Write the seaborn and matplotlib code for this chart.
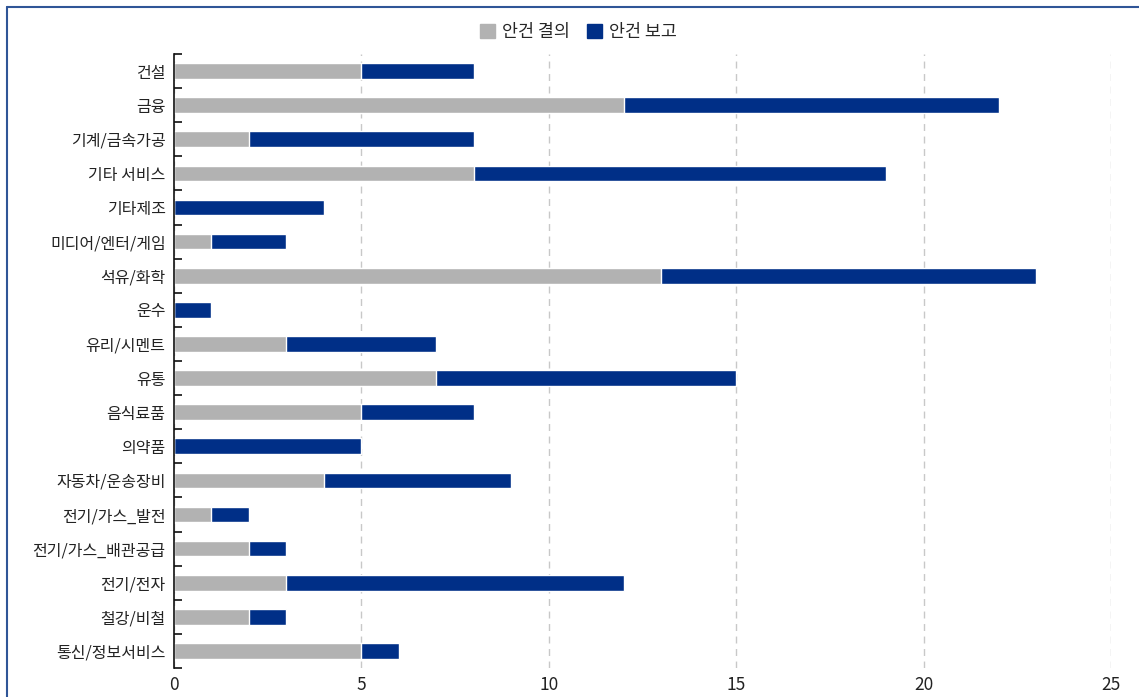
import pandas as pd
import seaborn as sns
import matplotlib.pyplot as plt
from matplotlib.lines import Line2D
from matplotlib.patches import Patch

INDUSTRIES = [
    "건설", "금융", "기계/금속가공", "기타 서비스", "기타제조", "미디어/엔터/게임",
    "석유/화학", "운수", "유리/시멘트", "유통", "음식료품", "의약품",
    "자동차/운송장비", "전기/가스_발전", "전기/가스_배관공급", "전기/전자",
    "철강/비철", "통신/정보서비스",
]
RESOLVED = [5, 12, 2, 8, 0, 1, 13, 0, 3, 7, 5, 0, 4, 1, 2, 3, 2, 5]
REPORTED = [3, 10, 6, 11, 4, 2, 10, 1, 4, 8, 3, 5, 5, 1, 1, 9, 1, 1]
X_TICKS = [0, 5, 10, 15, 20, 25]

GRAY = "#B2B2B2"
NAVY = "#002F87"
FONT = ["Noto Sans CJK KR", "DejaVu Sans"]


def main():
    df = pd.DataFrame({"industry": INDUSTRIES, "resolved": RESOLVED, "reported": REPORTED})
    df["total"] = df["resolved"] + df["reported"]
    style_plot(df)


def style_plot(df: pd.DataFrame) -> None:
    sns.set_style("white")
    plt.rcParams["font.family"] = FONT

    fig = plt.figure(figsize=(11.39, 6.97), dpi=100)
    ax = fig.add_axes([174 / 1139, 1 - 668 / 697, (1111 - 174) / 1139, (668 - 54) / 697])

    sns.barplot(data=df, x="total", y="industry", color=NAVY, orient="h",
                width=0.46, saturation=1, ax=ax)
    sns.barplot(data=df, x="resolved", y="industry", color=GRAY, orient="h",
                width=0.46, saturation=1, ax=ax)

    ax.set_xlim(0, 25)
    ax.set_ylim(len(INDUSTRIES) - 0.5, -0.5)
    ax.set_xticks(X_TICKS)
    ax.set_xticklabels([str(t) for t in X_TICKS], fontsize=12.5, color="#222222")
    ax.set_yticks(range(len(INDUSTRIES)))
    ax.set_yticklabels(INDUSTRIES, fontsize=11.5, color="#222222")
    ax.set_yticks([i - 0.5 for i in range(len(INDUSTRIES) + 1)], minor=True)
    ax.tick_params(axis="y", which="major", left=False, length=0, pad=6)
    ax.tick_params(axis="y", which="minor", left=True, length=6, width=1.2,
                   direction="in", color="#111111")
    ax.tick_params(axis="x", length=0, pad=6)

    sns.despine(ax=ax, left=False, bottom=True)
    ax.spines["left"].set_color("#111111")
    ax.spines["left"].set_linewidth(1.2)
    ax.spines["left"].set_zorder(5)

    ax.grid(axis="x", color="#C8C8C8", linestyle=(0, (5, 4)), linewidth=1)
    ax.grid(axis="y", visible=False)
    ax.set_axisbelow(True)
    ax.set(xlabel="", ylabel="")

    handles = [Patch(color=GRAY, label="안건 결의"), Patch(color=NAVY, label="안건 보고")]
    fig.legend(handles=handles, loc="center", bbox_to_anchor=(0.508, 1 - 32 / 697),
               ncol=2, frameon=False, fontsize=12.5, handlelength=0.85,
               handleheight=0.85, handletextpad=0.4, columnspacing=1.0)

    # blue frame lines (top and left)
    fig.add_artist(Line2D([7 / 1139, 1], [1 - 7 / 697, 1 - 7 / 697],
                          transform=fig.transFigure, color="#2F5597", linewidth=1.5))
    fig.add_artist(Line2D([7 / 1139, 7 / 1139], [0, 1 - 7 / 697],
                          transform=fig.transFigure, color="#2F5597", linewidth=1.5))

    fig.set_facecolor("white")
    plt.savefig("out.png", dpi=100)


if __name__ == "__main__":
    main()
